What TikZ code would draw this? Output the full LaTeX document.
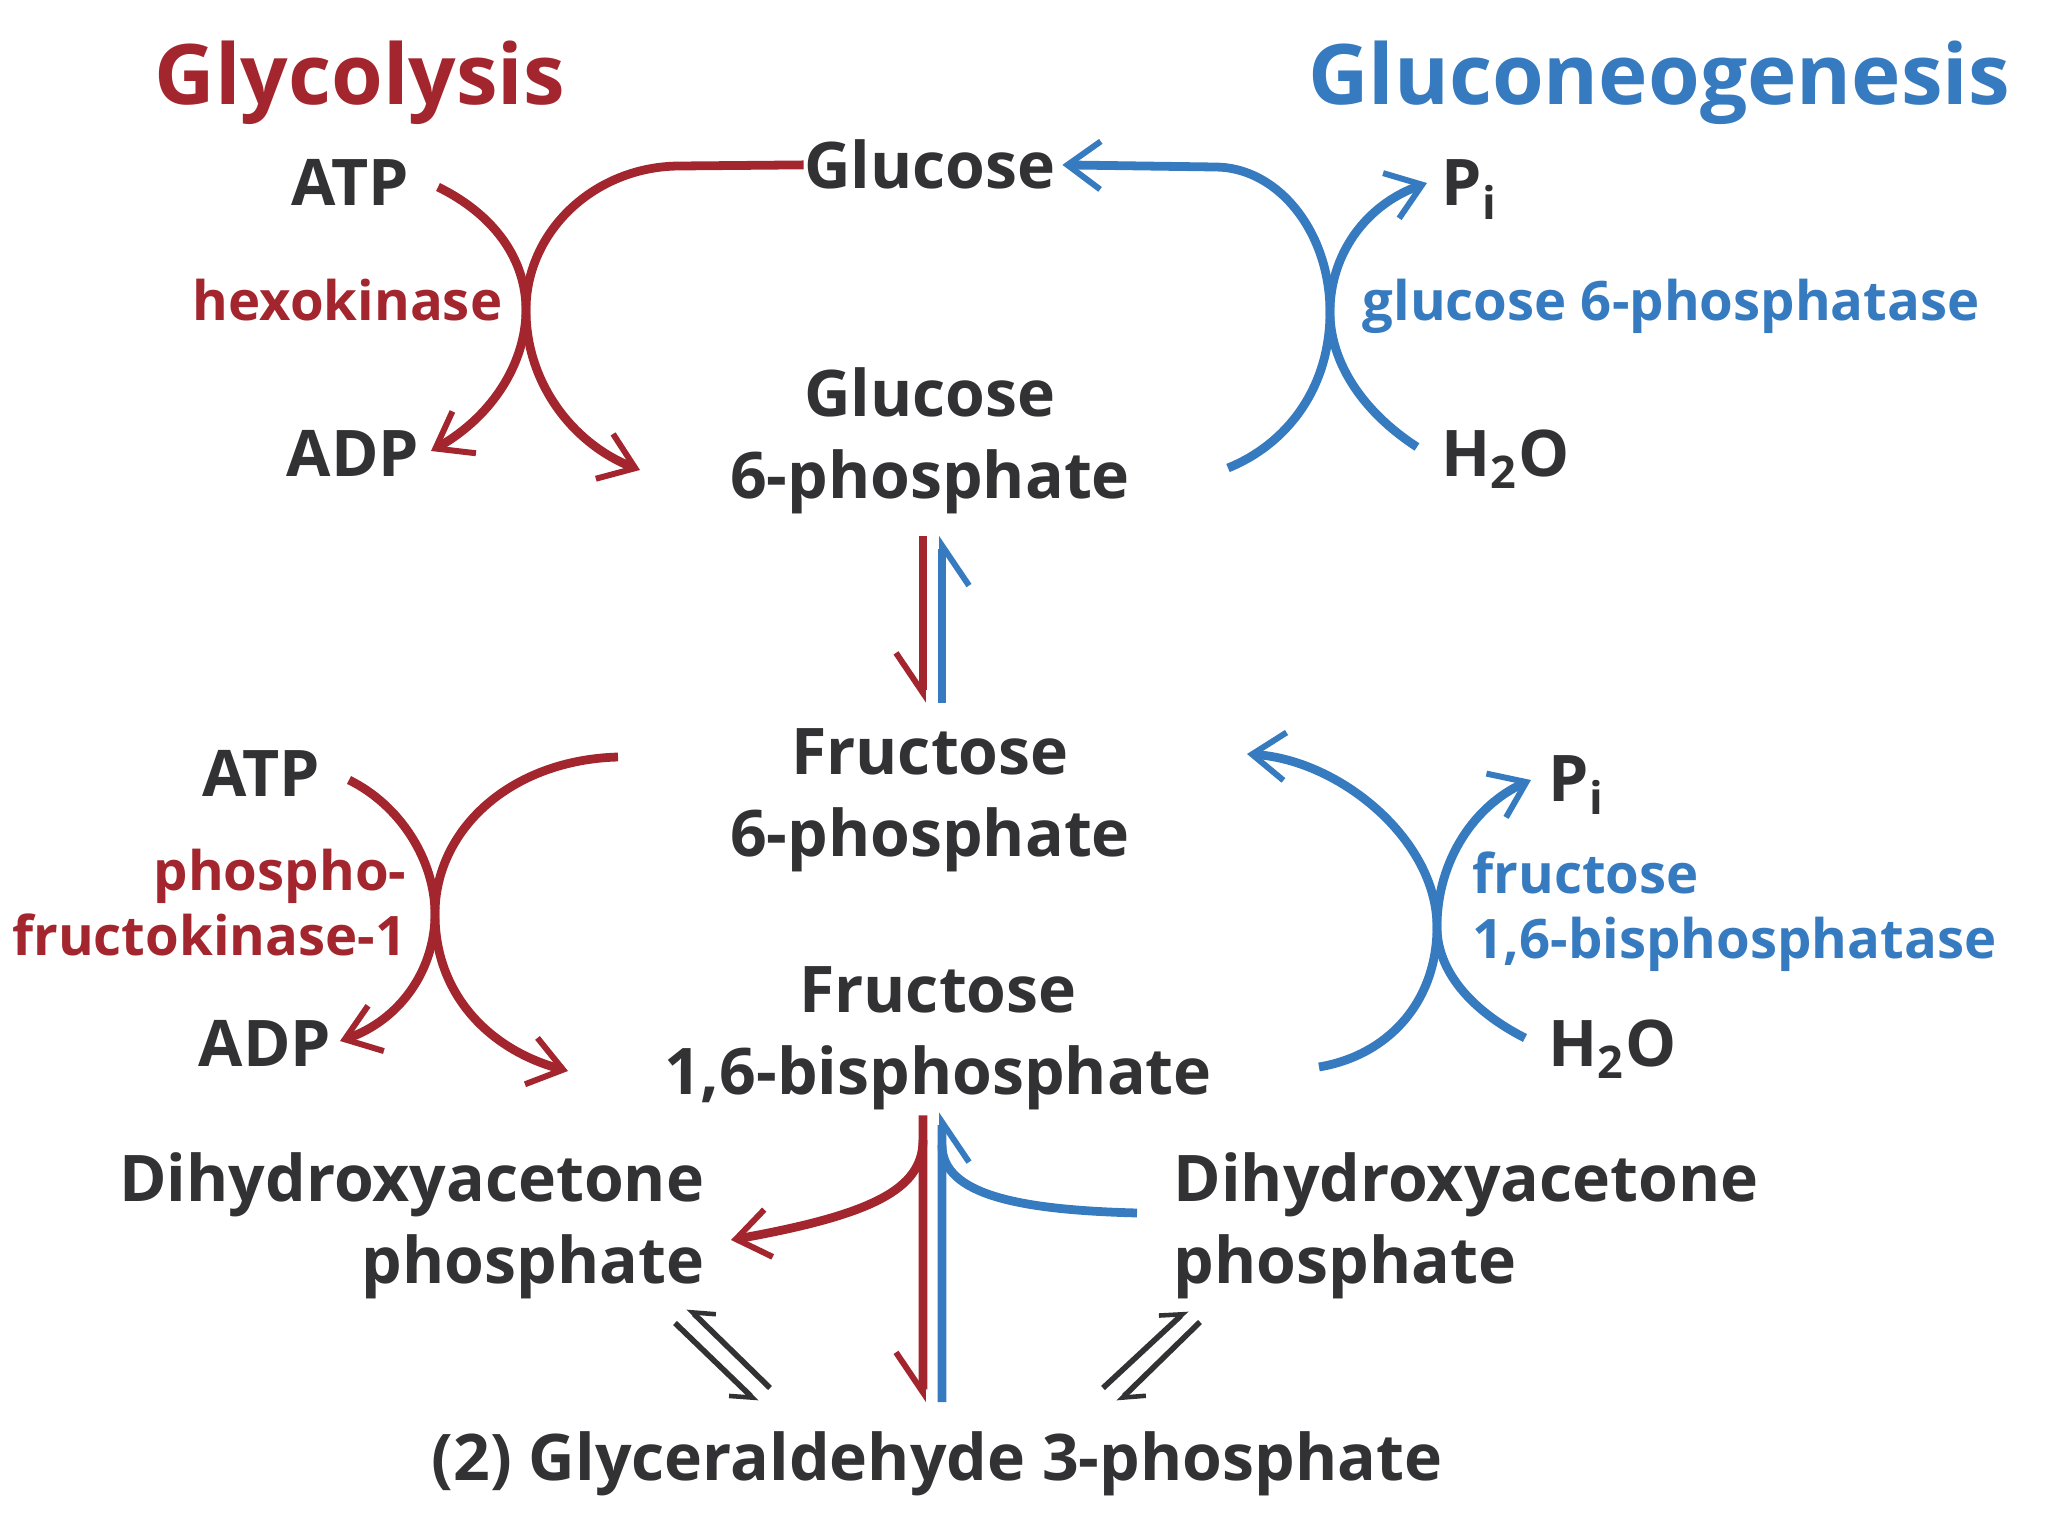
\documentclass[tikz,border=0pt]{standalone}
\usepackage{fontspec}
\setmainfont{Open Sans}
\usetikzlibrary{arrows.meta,positioning}

\definecolor{glyred}{RGB}{163,38,46}
\definecolor{glublue}{RGB}{54,122,191}
\definecolor{molgray}{RGB}{50,50,52}

\newcommand{\molfont}{\bfseries\fontsize{18.3}{23.3}\selectfont}
\newcommand{\enzfont}{\bfseries\fontsize{15.5}{18.5}\selectfont}
\newcommand{\ttlfont}{\bfseries\fontsize{23.8}{28}\selectfont}

\tikzset{
  mol/.style={font=\molfont, text=molgray, inner sep=0pt, align=center},
  enz/.style={font=\enzfont, inner sep=0pt},
  gly/.style={draw=glyred, line width=2.5pt},
  glu/.style={draw=glublue, line width=2.5pt},
  curvetip/.style={-{Straight Barb[length=3.3mm,width=4.8mm,line width=1.7pt]}},
  harpoon/.style={-{Straight Barb[#1,length=4mm,width=5.4mm,line width=1.7pt]}},
  eqline/.style={draw=molgray, line width=1.6pt, -{Straight Barb[#1,length=1.8mm,width=3mm,line width=1.3pt]}},
}

\begin{document}
\begin{tikzpicture}[x=1cm,y=-1cm]
    \useasboundingbox (0,0) rectangle (20.48,15.36);

    % titles
    \node[font=\ttlfont, text=glyred, anchor=base] (glyttl) at (3.60,1.05) {Glycolysis};
    \node[font=\ttlfont, text=glublue, anchor=base] (gluttl) at (16.59,1.05) {Gluconeogenesis};

    % glucose and glucose 6-phosphate
    \node[mol, anchor=base] (glc) at (9.30,1.89) {Glucose};
    \node[mol] (glcsixp) at (9.30,4.41) {Glucose\\6-phosphate};
    \node[mol, anchor=base] (atpA) at (3.50,2.06) {ATP};
    \node[mol, anchor=base] (adpA) at (3.53,4.77) {ADP};
    \node[enz, text=glyred, anchor=base east] (hk) at (5.03,3.21) {hexokinase};
    \node[mol, anchor=base west] (piA) at (14.41,2.06) {P\textsubscript{i}};
    \node[enz, text=glublue, anchor=base west] (gsixpase) at (13.62,3.21) {glucose 6-phosphatase};
    \node[mol, anchor=base west] (wA) at (14.41,4.77) {H\textsubscript{2}O};

    \coordinate (hkx) at (5.26,3.10);
    \coordinate (gpx) at (13.30,3.12);
    \coordinate (atpAout) at (4.38,1.87);
    \coordinate (adpAin) at (4.31,4.51);
    \coordinate (glcsixpin) at (6.40,4.70);
    \coordinate (glcsixpout) at (12.28,4.68);
    \coordinate (wAout) at (14.17,4.47);
    \coordinate (piAin) at (14.27,1.83);

    \draw[gly, curvetip] (glc.west) -- (6.80,1.66)
        .. controls (5.95,1.66) and (5.26,2.31) .. (hkx)
        .. controls (5.26,3.85) and (5.75,4.45) .. (glcsixpin);
    \draw[gly, curvetip] (atpAout) .. controls (4.95,2.15) and (5.26,2.60) .. (hkx)
        .. controls (5.26,3.60) and (4.95,4.15) .. (adpAin);
    \draw[glu, curvetip] (glcsixpout) .. controls (12.85,4.45) and (13.30,3.90) .. (gpx)
        .. controls (13.30,2.32) and (12.78,1.67) .. (12.15,1.67) -- ([xshift=0.6mm]glc.east);
    \draw[glu, curvetip] (wAout) .. controls (13.60,4.10) and (13.30,3.60) .. (gpx)
        .. controls (13.30,2.55) and (13.65,2.05) .. (piAin);

    % glucose 6-phosphate <-> fructose 6-phosphate
    \node[mol] (fsixp) at (9.30,8.00) {Fructose\\6-phosphate};
    \draw[gly, harpoon=right] ([xshift=-0.7mm,yshift=-2.1mm]glcsixp.south) -- ([xshift=-0.7mm,yshift=2.5mm]fsixp.north);
    \draw[glu, harpoon=right] ([xshift=1.2mm,yshift=2.5mm]fsixp.north) -- ([xshift=1.2mm,yshift=-2.1mm]glcsixp.south);

    % fructose 6-phosphate and fructose 1,6-bisphosphate
    \node[mol] (fbp) at (9.38,10.38) {Fructose\\1,6-bisphosphate};
    \node[mol, anchor=base] (atpB) at (2.61,7.97) {ATP};
    \node[mol, anchor=base] (adpB) at (2.65,10.67) {ADP};
    \node[enz, text=glyred, align=right, anchor=east] (pfk) at (4.07,9.03) {phospho-\\fructokinase-1};
    \node[mol, anchor=base west] (piB) at (15.48,8.01) {P\textsubscript{i}};
    \node[enz, text=glublue, align=left, anchor=west] (fbpase) at (14.72,9.12) {fructose\\1,6-bisphosphatase};
    \node[mol, anchor=base west] (wB) at (15.48,10.67) {H\textsubscript{2}O};

    \coordinate (pfkx) at (4.35,9.14);
    \coordinate (fbx) at (14.37,9.27);
    \coordinate (fsixpout) at (6.18,7.57);
    \coordinate (fbpin) at (5.68,10.71);
    \coordinate (atpBout) at (3.49,7.80);
    \coordinate (adpBin) at (3.40,10.41);
    \coordinate (fbpout) at (13.19,10.67);
    \coordinate (fsixpin) at (12.47,7.54);
    \coordinate (wBout) at (15.25,10.38);
    \coordinate (piBin) at (15.31,7.80);

    \draw[gly, curvetip] (fsixpout) .. controls (5.10,7.60) and (4.35,8.30) .. (pfkx)
        .. controls (4.35,9.95) and (4.90,10.50) .. (fbpin);
    \draw[gly, curvetip] (atpBout) .. controls (4.00,8.05) and (4.35,8.60) .. (pfkx)
        .. controls (4.35,9.70) and (4.00,10.20) .. (adpBin);
    \draw[glu, curvetip] (fbpout) .. controls (13.90,10.55) and (14.37,10.00) .. (fbx)
        .. controls (14.37,8.40) and (13.40,7.60) .. (fsixpin);
    \draw[glu, curvetip] (wBout) .. controls (14.70,10.10) and (14.37,9.70) .. (fbx)
        .. controls (14.37,8.60) and (14.75,8.05) .. (piBin);

    % fructose 1,6-bisphosphate <-> triose phosphates
    \node[mol, align=right, anchor=east] (dhapL) at (7.05,12.26) {Dihydroxyacetone\\phosphate};
    \node[mol, align=left, anchor=west] (dhapR) at (11.73,12.26) {Dihydroxyacetone\\phosphate};
    \node[mol] (gap) at (9.37,14.64) {(2) Glyceraldehyde 3-phosphate};

    \coordinate (redsplit) at (9.23,11.40);
    \coordinate (bluejoin) at (9.42,11.45);
    \coordinate (dhapLin) at (7.31,12.40);
    \coordinate (dhapRout) at (11.37,12.13);

    \draw[gly, harpoon=right] ([xshift=-1.5mm,yshift=-0.5mm]fbp.south) -- ([xshift=-1.4mm,yshift=2.9mm]gap.north);
    \draw[glu, harpoon=right] ([xshift=0.5mm,yshift=2.9mm]gap.north) -- ([xshift=0.4mm,yshift=-0.2mm]fbp.south);
    \draw[gly, curvetip] (redsplit) .. controls (9.23,11.90) and (8.70,12.15) .. (dhapLin);
    \draw[glu] (dhapRout) .. controls (10.20,12.10) and (9.42,11.95) .. (bluejoin);

    % triose phosphate isomerase equilibria
    \draw[eqline=right] (7.70,13.88) -- (6.88,13.08);
    \draw[eqline=right] (6.75,13.23) -- (7.57,14.02);
    \draw[eqline=left] (11.03,13.88) -- (11.87,13.10);
    \draw[eqline=left] (12.00,13.22) -- (11.18,14.02);
\end{tikzpicture}
\end{document}
